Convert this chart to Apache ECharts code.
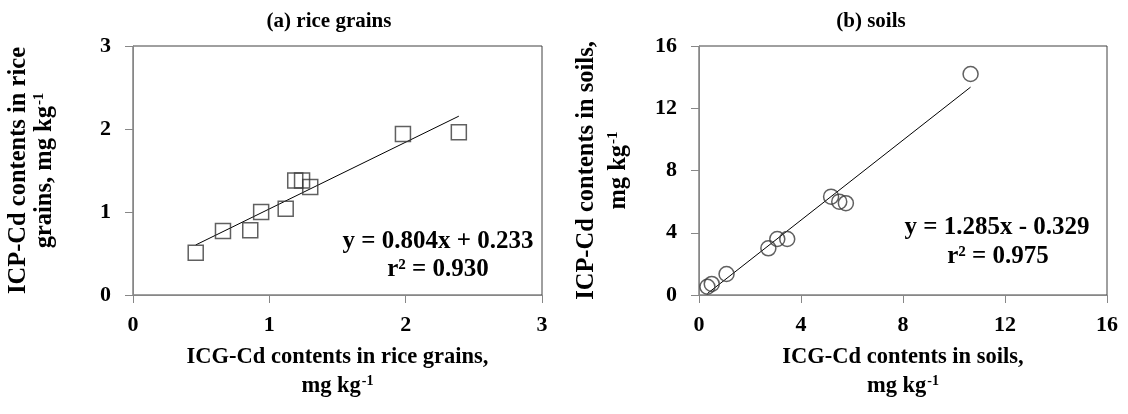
<!DOCTYPE html>
<html>
<head>
<meta charset="utf-8">
<script src="https://cdn.jsdelivr.net/npm/echarts@6/dist/echarts.min.js"></script>
<style>html,body{margin:0;padding:0;background:#fff}#c{width:1128px;height:414px}</style>
</head>
<body>
<div id="c"></div>
<script>
// ---- data ----
const riceX = [0.46, 0.66, 0.86, 0.94, 1.12, 1.19, 1.24, 1.30, 1.98, 2.39];
const riceY = [0.51, 0.77, 0.78, 1.00, 1.04, 1.38, 1.38, 1.30, 1.94, 1.96];
const riceFit = [0.804, 0.233]; // slope, intercept
const riceR2 = '0.930';
const riceTicks = [0, 1, 2, 3];

const soilX = [0.33, 0.50, 1.08, 2.72, 3.07, 3.46, 5.18, 5.50, 5.76, 10.65];
const soilY = [0.53, 0.71, 1.35, 3.00, 3.60, 3.60, 6.32, 6.00, 5.90, 14.20];
const soilFit = [1.285, -0.329];
const soilR2 = '0.975';
const soilTicks = [0, 4, 8, 12, 16];

const titles = ['(a) rice grains', '(b) soils'];

// ---- build ----
const FONT = '"Liberation Serif", "Times New Roman", serif';
const pts = (xs, ys) => xs.map((x, i) => [x, ys[i]]);
const fitLine = (xs, f) => {
  const a = Math.min(...xs), b = Math.max(...xs);
  return [[a, f[0] * a + f[1]], [b, f[0] * b + f[1]]];
};
const sign = v => (v < 0 ? ' - ' + Math.abs(v).toFixed(3) : ' + ' + v.toFixed(3));

function richStyle(size, lh) {
  return {
    a: { fontFamily: FONT, fontWeight: 'bold', fontSize: size, color: '#000', lineHeight: lh },
    s: { fontFamily: FONT, fontWeight: 'bold', fontSize: Math.round(size * 0.6), color: '#000', lineHeight: lh, padding: [0, 0, Math.round(size * 0.5), 1] }
  };
}

function xAxis(idx, ticks, nameTop) {
  return {
    type: 'value', gridIndex: idx,
    min: ticks[0], max: ticks[ticks.length - 1], interval: ticks[1] - ticks[0],
    splitLine: { show: false },
    axisLine: { show: true, onZero: false, lineStyle: { color: '#878787', width: 1 } },
    axisTick: { show: true, inside: false, length: 8, lineStyle: { color: '#878787' } },
    axisLabel: { margin: 19, color: '#000', fontFamily: FONT, fontWeight: 'bold', fontSize: 22 },
    name: '{a|' + nameTop + '}\n{a|mg kg}{s|-1}',
    nameLocation: 'middle', nameGap: 48,
    nameTextStyle: { rich: richStyle(22.5, 29) }
  };
}
function yAxis(idx, ticks, l1, l2, gap, lh) {
  return {
    type: 'value', gridIndex: idx,
    min: ticks[0], max: ticks[ticks.length - 1], interval: ticks[1] - ticks[0],
    splitLine: { show: false },
    axisLine: { show: true, onZero: false, lineStyle: { color: '#878787', width: 1 } },
    axisTick: { show: true, inside: false, length: 8, lineStyle: { color: '#878787' } },
    axisLabel: { margin: 22, color: '#000', fontFamily: FONT, fontWeight: 'bold', fontSize: 22 },
    name: '{a|' + l1 + '}\n{a|' + l2 + '}{s|-1}',
    nameLocation: 'middle', nameRotate: 90, nameGap: gap,
    nameTextStyle: { rich: richStyle(24.5, lh) }
  };
}

const symbolStyle = { color: 'rgba(0,0,0,0)', borderColor: '#383838', borderWidth: 1.5 };
const eqFont = 'bold 25px ' + FONT;

const option = {
  animation: false,
  backgroundColor: '#fff',
  grid: [
    { left: 133, top: 46, width: 409, height: 249, show: true, borderColor: '#404040', borderWidth: 1, backgroundColor: 'transparent' },
    { left: 699, top: 46, width: 408, height: 249, show: true, borderColor: '#404040', borderWidth: 1, backgroundColor: 'transparent' }
  ],
  title: [
    { text: titles[0], left: 324, top: 6, textAlign: 'center', textStyle: { fontFamily: FONT, fontWeight: 'bold', fontSize: 21, color: '#000' } },
    { text: titles[1], left: 866, top: 6, textAlign: 'center', textStyle: { fontFamily: FONT, fontWeight: 'bold', fontSize: 21, color: '#000' } }
  ],
  xAxis: [
    xAxis(0, riceTicks, 'ICG-Cd contents in rice grains,'),
    xAxis(1, soilTicks, 'ICG-Cd contents in soils,')
  ],
  yAxis: [
    yAxis(0, riceTicks, 'ICP-Cd contents in rice', 'grains, mg kg', 75, 26),
    yAxis(1, soilTicks, 'ICP-Cd contents in soils,', 'mg kg', 64, 32)
  ],
  series: [
    { type: 'line', xAxisIndex: 0, yAxisIndex: 0, data: fitLine(riceX, riceFit), symbol: 'none', lineStyle: { color: '#000', width: 1 }, z: 2 },
    { type: 'scatter', xAxisIndex: 0, yAxisIndex: 0, data: pts(riceX, riceY), symbol: 'rect', symbolSize: 15, itemStyle: symbolStyle, z: 3 },
    { type: 'line', xAxisIndex: 1, yAxisIndex: 1, data: fitLine(soilX, soilFit), symbol: 'none', lineStyle: { color: '#000', width: 1 }, z: 2 },
    { type: 'scatter', xAxisIndex: 1, yAxisIndex: 1, data: pts(soilX, soilY), symbol: 'circle', symbolSize: 15, itemStyle: symbolStyle, z: 3 }
  ],
  graphic: [
    { type: 'text', x: 438, y: 242, style: { text: 'y = ' + riceFit[0].toFixed(3) + 'x' + sign(riceFit[1]), font: eqFont, fill: '#000', textAlign: 'center', textVerticalAlign: 'middle' } },
    { type: 'text', x: 438, y: 270, style: { text: 'r² = ' + riceR2, font: eqFont, fill: '#000', textAlign: 'center', textVerticalAlign: 'middle' } },
    { type: 'text', x: 997, y: 228, style: { text: 'y = ' + soilFit[0].toFixed(3) + 'x' + sign(soilFit[1]), font: eqFont, fill: '#000', textAlign: 'center', textVerticalAlign: 'middle' } },
    { type: 'text', x: 998, y: 257, style: { text: 'r² = ' + soilR2, font: eqFont, fill: '#000', textAlign: 'center', textVerticalAlign: 'middle' } }
  ]
};

echarts.init(document.getElementById('c'), null, { renderer: 'canvas' }).setOption(option);
</script>
</body>
</html>
